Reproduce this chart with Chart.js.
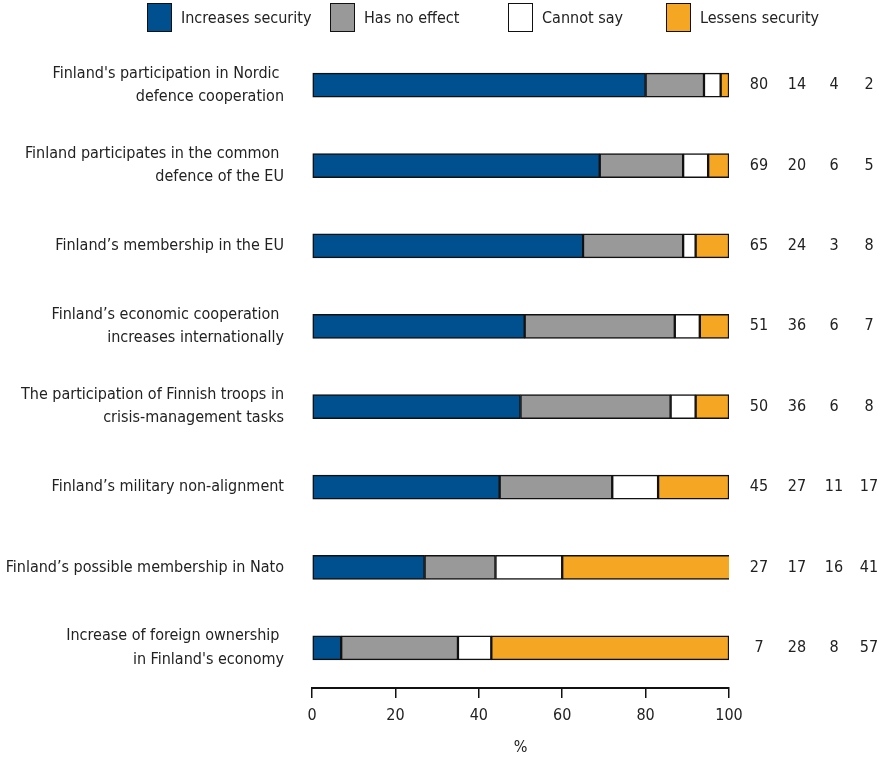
<!DOCTYPE html>
<html>
<head>
<meta charset="utf-8">
<script src="https://cdn.jsdelivr.net/npm/chart.js@4"></script>
<style>
  html, body { margin: 0; padding: 0; background: #fff; }
  #wrap { position: relative; width: 896px; height: 757px; }
  #legend { position: absolute; top: 3px; left: 147px; display: flex; font: 16px 'DejaVu Sans Condensed', sans-serif; color: #222; }
  #legend .item { display: flex; align-items: center; }
  #legend .box { width: 23px; height: 27px; border: 1.5px solid #111; margin-right: 9px; }
</style>
</head>
<body>
<div id="wrap">
  <canvas id="chart" width="896" height="757"></canvas>
  <div id="legend"></div>
</div>
<script>
const FONT = "'DejaVu Sans Condensed', 'Liberation Sans Narrow', sans-serif";

const categories = [
    ["Finland's participation in Nordic ", "defence cooperation"],
    ["Finland participates in the common ", "defence of the EU"],
    "Finland\u2019s membership in the EU",
    ["Finland\u2019s economic cooperation ", "increases internationally"],
    ["The participation of Finnish troops in", "crisis-management tasks"],
    "Finland\u2019s military non-alignment",
    "Finland\u2019s possible membership in Nato",
    ["Increase of foreign ownership ", "in Finland's economy"]
];
const seriesNames = ['Increases security', 'Has no effect', 'Cannot say', 'Lessens security'];
const increases = [80, 69, 65, 51, 50, 45, 27, 7];
const noEffect  = [14, 20, 24, 36, 36, 27, 17, 28];
const cannotSay = [4, 6, 3, 6, 6, 11, 16, 8];
const lessens   = [2, 5, 8, 7, 8, 17, 41, 57];
const xTicks = [0, 20, 40, 60, 80, 100];
const colors = ['#00508f', '#999999', '#ffffff', '#f5a623'];

const allSeries = [increases, noEffect, cannotSay, lessens];

// legend above the chart
const legendWidths = [183, 178, 158, 0];
const legend = document.querySelector('#legend');
seriesNames.forEach((name, k) => {
    const item = document.createElement('div');
    item.className = 'item';
    if (legendWidths[k]) item.style.width = legendWidths[k] + 'px';
    item.innerHTML = '<span class="box" style="background:' + colors[k] + '"></span><span>' + name + '</span>';
    legend.appendChild(item);
});

// numbers printed to the right of each bar
const valueColumns = {
    id: 'valueColumns',
    afterDatasetsDraw(c) {
        const ctx = c.ctx;
        const y = c.scales.y;
        const offsets = [30, 68, 105, 140];
        ctx.save();
        ctx.font = '16px ' + FONT;
        ctx.fillStyle = '#222';
        ctx.textAlign = 'center';
        ctx.textBaseline = 'middle';
        categories.forEach((cat, i) => {
            const py = y.getPixelForValue(i);
            allSeries.forEach((s, k) => {
                ctx.fillText(String(s[i]), c.chartArea.right + offsets[k], py);
            });
        });
        ctx.restore();
    }
};

new Chart(document.querySelector('#chart').getContext('2d'), {
    type: 'bar',
    data: {
        labels: categories,
        datasets: allSeries.map((s, k) => ({
            label: seriesNames[k],
            data: s,
            backgroundColor: colors[k],
            borderColor: '#111',
            borderWidth: 1.5,
            borderSkipped: false,
            barThickness: 24
        }))
    },
    options: {
        indexAxis: 'y',
        responsive: false,
        animation: false,
        layout: { padding: { top: 45, right: 167, bottom: 0, left: 0 } },
        plugins: {
            tooltip: { enabled: false },
            legend: { display: false }
        },
        scales: {
            x: {
                stacked: true,
                min: 0,
                max: 100,
                afterBuildTicks: sc => { sc.ticks = xTicks.map(v => ({ value: v })); },
                afterFit: sc => { sc.height = 69; },
                border: { display: true, color: '#111', width: 2 },
                grid: { drawOnChartArea: false, drawTicks: true, tickLength: 10, color: '#111', lineWidth: 1.5 },
                ticks: { font: { family: FONT, size: 16 }, color: '#222', padding: 8 },
                title: { display: true, text: '%', font: { family: FONT, size: 16 }, color: '#222', padding: 0 }
            },
            y: {
                stacked: true,
                afterFit: sc => { sc.width = 312; },
                border: { display: false },
                grid: { display: false },
                ticks: { font: { family: FONT, size: 16, lineHeight: 1.45 }, color: '#222', padding: 20 }
            }
        }
    },
    plugins: [valueColumns]
});
</script>
</body>
</html>
